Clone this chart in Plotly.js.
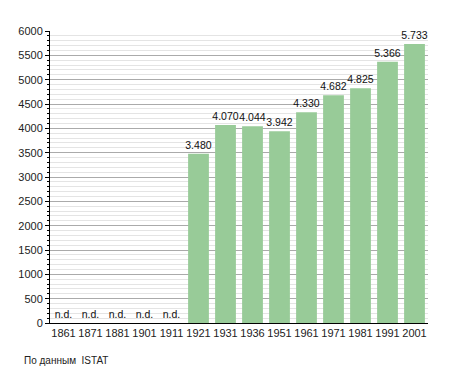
<!DOCTYPE html>
<html>
<head>
<meta charset="utf-8">
<script src="https://cdn.plot.ly/plotly-3.0.1.min.js"></script>
<style>html,body{margin:0;padding:0;background:#fff;}#chart{width:455px;height:373px;}</style>
</head>
<body>
<div id="chart"></div>
<script>
const years = ['1861','1871','1881','1901','1911','1921','1931','1936','1951','1961','1971','1981','1991','2001'];
const population = [0,0,0,0,0,3480,4070,4044,3942,4330,4682,4825,5366,5733];
const sourceNote = 'По данным  ISTAT';

function fmt(v){
  if(!v) return 'n.d.';
  const s = String(v);
  return s.length > 3 ? s.slice(0, s.length-3) + '.' + s.slice(-3) : s;
}
const labels = population.map(fmt);

const trace = {
  type: 'bar',
  x: years,
  y: population,
  text: labels,
  textposition: 'outside',
  constraintext: 'none',
  cliponaxis: false,
  textfont: {family: 'Liberation Sans, Arial, sans-serif', size: 10.5, color: '#111'},
  marker: {color: '#98cb98', line: {width: 0}},
  hoverinfo: 'none'
};

const layout = {
  width: 455, height: 373,
  margin: {l: 50, r: 27, t: 31, b: 50},
  paper_bgcolor: '#fff', plot_bgcolor: '#fff',
  bargap: 0.23,
  showlegend: false,
  font: {family: 'Liberation Sans, Arial, sans-serif', size: 11, color: '#222'},
  xaxis: {
    type: 'category',
    showline: true, linecolor: '#000', linewidth: 1,
    ticks: '', showgrid: false,
    tickfont: {size: 11, color: '#222'},
    fixedrange: true
  },
  yaxis: {
    range: [0, 6000],
    dtick: 500,
    showline: true, linecolor: '#000', linewidth: 1,
    ticks: 'outside', ticklen: 4, tickcolor: '#000',
    showgrid: true, gridcolor: '#aaaaaa', gridwidth: 1,
    zeroline: false,
    tickfont: {size: 11, color: '#222'},
    minor: {dtick: 100, showgrid: true, gridcolor: '#e4e4e4', gridwidth: 1, ticks: 'outside', ticklen: 2, tickcolor: '#000'},
    fixedrange: true
  },
  annotations: [{
    text: sourceNote, xref: 'paper', yref: 'paper', x: -0.074, y: -0.13,
    xanchor: 'left', yanchor: 'middle', showarrow: false,
    font: {size: 10, color: '#222'}
  }]
};

Plotly.newPlot('chart', [trace], layout, {staticPlot: true, displayModeBar: false});
</script>
</body>
</html>
